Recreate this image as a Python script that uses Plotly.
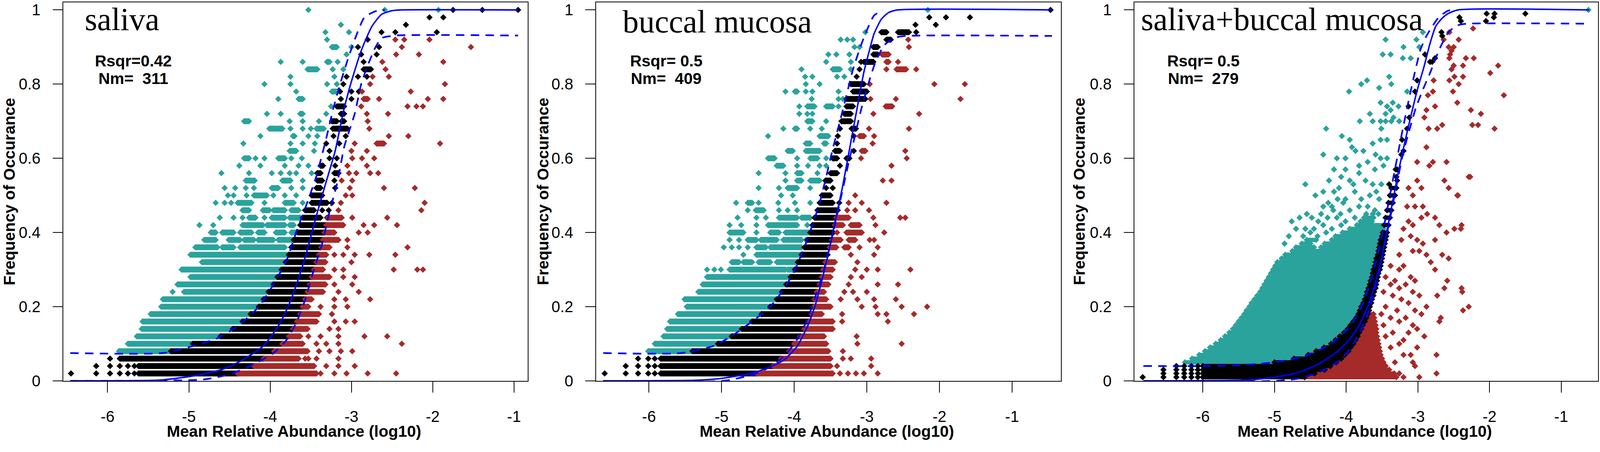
import plotly.graph_objects as go

# ---------------- colours ----------------
TEAL = "#2aa39c"
BLACK = "#000000"
RED = "#a52a2a"
BLUE = "#0000ff"

# ---------------- axis ticks ----------------
X_TICKS = [-6, -5, -4, -3, -2, -1]
X_TICK_TEXT = ["-6", "-5", "-4", "-3", "-2", "-1"]
Y_TICKS = [0, 0.2, 0.4, 0.6, 0.8, 1.0]
Y_TICK_TEXT = ["0", "0.2", "0.4", "0.6", "0.8", "1"]

PANEL_TITLES = ["saliva", "buccal mucosa", "saliva+buccal mucosa"]
RSQR_TEXT = ["Rsqr=0.42", "Rsqr=\u00a00.5", "Rsqr=\u00a00.5"]
NM_TEXT = ["Nm=\u00a0\u00a0311", "Nm=\u00a0\u00a0409", "Nm=\u00a0\u00a0279"]

# ================= saliva (rows: y -> runs (x0,x1) or single x) =================
SAL_TEAL = {
    0.08: [(-5.86, -5.22)], 0.10: [(-5.75, -4.95)], 0.12: [(-5.64, -4.61)],
    0.14: [(-5.58, -4.46)], 0.16: [(-5.57, -4.34)], 0.18: [(-5.47, -4.24)],
    0.20: [(-5.34, -4.14)], 0.22: [(-5.32, -4.08)], 0.24: [-5.20, (-5.06, -4.02)],
    0.26: [(-5.14, -3.96)], 0.28: [(-4.98, -3.91)], 0.30: [(-5.09, -3.86)],
    0.32: [(-4.84, -3.81)], 0.34: [(-4.98, -3.77)],
    0.36: [(-4.92, -4.65), (-4.59, -4.45), (-4.37, -3.82)],
    0.38: [(-4.81, -4.67), (-4.51, -4.37), (-4.32, -4.20), (-4.15, -3.96), (-3.90, -3.71)],
    0.40: [(-4.73, -4.67), (-4.59, -4.45), (-4.37, -4.23), (-4.15, -4.07), (-3.93, -3.82), (-3.74, -3.68)],
    0.42: [-4.87, -4.70, (-4.34, -4.09), (-4.04, -3.82), (-3.76, -3.71)],
    0.44: [-4.62, -4.45, -4.34, (-4.26, -4.18), -4.07, (-3.98, -3.82), (-3.76, -3.63)],
    0.46: [(-4.34, -4.26), (-4.09, -4.01), (-3.96, -3.82), (-3.74, -3.65)],
    0.48: [-4.67, -4.56, -4.48, (-4.40, -4.23), -4.07, (-3.82, -3.71), -3.60],
    0.50: [-4.52, -4.45, -4.29, (-4.20, -4.04), -3.96, -3.82, -3.68],
    0.52: [-4.56, -4.43, -4.30, -4.20, (-3.98, -3.90), -3.74, -3.60],
    0.54: [(-4.30, -4.19), (-3.85, -3.75), -3.60],
    0.56: [-4.60, -4.26, -3.98, -3.87, -3.76, -3.68, -3.49],
    0.58: [-4.38, -4.12, -3.82, -3.65, -3.53],
    0.60: [(-4.32, -4.26), -4.18, -4.07, (-3.90, -3.82), -3.74, -3.61],
    0.62: [(-3.76, -3.68), -3.46],
    0.64: [-4.33, -3.75, -3.60, -3.45],
    0.66: [-4.12, (-3.72, -3.70), -3.53, -3.42],
    0.68: [(-4.01, -3.85), -3.75, -3.60, -3.50, (-3.43, -3.34)],
    0.70: [(-4.32, -4.26), -3.76, -3.60, -3.40],
    0.72: [-4.04, -3.87, (-3.63, -3.60), -3.31],
    0.74: [-3.25], 0.76: [-3.90, (-3.65, -3.60)], 0.78: [-3.68, (-3.24, -3.17)],
    0.80: [-4.07, -3.75, -3.30, -3.18], 0.82: [-3.75, -3.21],
    0.84: [(-3.54, -3.42), -3.23, -3.10], 0.86: [-3.87, -3.60, (-3.30, -3.27), -3.17],
    0.88: [-3.06], 0.90: [(-3.24, -3.18), -3.00], 0.92: [-3.30], 0.94: [-3.32, -3.03],
    0.96: [-3.13], 1.00: [-3.53, -2.59, -1.93],
}
SAL_BLACK = {
    0.02: [-6.45, -6.14, -5.97, -5.85, -5.75, -5.67, (-5.62, -4.40)],
    0.04: [-6.14, -5.97, -5.85, -5.75, -5.67, (-5.62, -4.20)],
    0.06: [-5.97, (-5.85, -4.08)],
    0.08: [(-5.22, -3.95)], 0.10: [(-4.95, -3.85)], 0.12: [(-4.61, -3.77)],
    0.14: [(-4.46, -3.72)], 0.16: [(-4.34, -3.67)], 0.18: [(-4.24, -3.63)],
    0.20: [(-4.14, -3.60)], 0.22: [(-4.08, -3.57)], 0.24: [(-4.02, -3.54)],
    0.26: [(-3.96, -3.51)], 0.28: [(-3.91, -3.49)], 0.30: [(-3.86, -3.46)],
    0.32: [(-3.81, -3.43)], 0.34: [(-3.77, -3.40)], 0.36: [(-3.74, -3.38)],
    0.38: [(-3.71, -3.36)], 0.40: [(-3.66, -3.33)], 0.42: [(-3.63, -3.31)],
    0.44: [(-3.60, -3.38), -3.30], 0.46: [(-3.57, -3.46), -3.36, -3.28],
    0.48: [(-3.49, -3.30), -3.24], 0.50: [(-3.49, -3.36)], 0.52: [(-3.43, -3.38), -3.20],
    0.54: [(-3.42, -3.36), -3.21], 0.56: [(-3.42, -3.38), (-3.21, -3.16)],
    0.58: [(-3.38, -3.35), -3.20], 0.60: [-3.27, -3.18], 0.62: [-3.27],
    0.64: [-3.31, -3.15], 0.66: [-3.22, -3.07], 0.68: [(-3.23, -3.05)],
    0.70: [(-3.24, -3.18), (-3.12, -3.09)], 0.72: [(-3.13, -3.09)], 0.74: [(-3.18, -3.09)],
    0.76: [-3.13, -3.00], 0.78: [-3.14, -3.00, -2.91], 0.80: [-3.10],
    0.82: [-3.06, -2.92, -2.81], 0.84: [(-2.85, -2.76)], 0.86: [-2.85],
    0.88: [-2.88, -2.69], 0.90: [-2.92, -2.66], 0.92: [-2.80],
    0.94: [-2.63, -2.46, -1.95], 0.96: [-2.33], 0.98: [-2.04, -1.87],
    1.00: [-1.75, -1.39, -0.95],
}
SAL_RED = {
    0.02: [(-4.40, -3.43), -3.38, -3.21, -3.06, -2.80, -2.45],
    0.04: [(-4.20, -3.46), -3.31, -3.16, -2.96],
    0.06: [(-4.08, -3.65), -3.57, -3.53, -3.43, -3.16],
    0.08: [(-3.95, -3.54), -3.40, -3.27, -3.13, -2.99],
    0.10: [(-3.85, -3.60), -3.43, -3.31, -3.16, -2.38],
    0.12: [(-3.77, -3.63), -3.53, -3.38, -3.16, -2.84, -2.56],
    0.14: [(-3.72, -3.54), -3.27, -3.16],
    0.16: [(-3.67, -3.43), -3.21, -3.07, -2.96],
    0.18: [(-3.63, -3.40), -3.24],
    0.20: [(-3.60, -3.53), -3.38, -3.21, -3.05],
    0.22: [(-3.57, -3.49), -3.21, -3.07, -2.77],
    0.24: [(-3.54, -3.35), -3.16, -2.91],
    0.26: [(-3.51, -3.32), -3.21, -2.99],
    0.28: [(-3.49, -3.27), -3.10, -2.96],
    0.30: [(-3.46, -3.35), -3.21, -3.10, -2.48, -2.19, -2.12],
    0.32: [(-3.43, -3.32), -3.00],
    0.34: [(-3.40, -3.31), -3.21, -3.10, -2.96, -2.78, -2.46],
    0.36: [(-3.37, -3.27), -3.05, -2.31],
    0.38: [(-3.35, -3.16), -3.05],
    0.40: [(-3.33, -3.21), -2.91, -2.80],
    0.42: [(-3.31, -3.10), -2.85, -2.72, -2.44],
    0.44: [(-3.29, -3.12), -2.99, -2.56],
    0.46: [-3.16, -2.14], 0.48: [-3.13, -2.10], 0.50: [-3.07, -2.99],
    0.52: [-3.02, -2.60, -2.22], 0.54: [-3.12, -2.99],
    0.56: [-3.03, -2.94, -2.77, -2.67], 0.58: [-3.05, -2.81],
    0.60: [-2.99, -2.87, -2.72], 0.62: [-3.00, -2.81],
    0.64: [-2.96, (-2.69, -2.60), -1.91], 0.66: [-2.54, -2.30],
    0.68: [-2.78], 0.70: [-2.80], 0.72: [-2.81, -2.55],
    0.74: [-2.88, -2.31, -2.20, -2.12], 0.76: [(-2.85, -2.80), -2.66, -2.06, -1.87],
    0.78: [-2.87, -2.27], 0.80: [-2.77, -1.85], 0.82: [-2.74, -2.54],
    0.84: [-2.58], 0.86: [-2.62, -1.87], 0.88: [-2.45, -2.17],
    0.90: [-2.38, -1.53], 0.92: [-2.46, -2.35, -2.04],
}
SAL_FIT_X = [-6.46, -5.36, -4.98, -4.60, -4.35, -4.08, -3.88, -3.76, -3.66, -3.56, -3.43, -3.32,
             -3.20, -3.10, -3.01, -2.88, -2.75, -2.63, -2.50, -2.40, -0.95]
SAL_FIT_Y = [0.0, 0.002, 0.012, 0.03, 0.055, 0.095, 0.155, 0.21, 0.27, 0.34, 0.446, 0.53,
             0.62, 0.725, 0.80, 0.89, 0.955, 0.988, 0.998, 1.0, 1.0]
SAL_UP_X = [-6.46, -5.32, -4.98, -4.65, -4.39, -4.14, -3.97, -3.80, -3.68, -3.55, -3.43, -3.32,
            -3.22, -3.09, -2.96, -2.84, -2.71, -2.59]
SAL_UP_Y = [0.075, 0.075, 0.092, 0.115, 0.149, 0.20, 0.256, 0.324, 0.40, 0.477, 0.553, 0.645,
            0.737, 0.836, 0.92, 0.98, 0.996, 1.0]
SAL_LO_X = [-6.46, -4.81, -4.48, -4.23, -3.97, -3.80, -3.68, -3.57, -3.47, -3.36, -3.28, -3.17,
            -3.09, -2.96, -2.88, -2.80, -2.71, -2.63, -2.46, -0.95]
SAL_LO_Y = [0.0, 0.004, 0.019, 0.042, 0.073, 0.11, 0.156, 0.218, 0.294, 0.37, 0.447, 0.538,
            0.63, 0.72, 0.80, 0.85, 0.897, 0.924, 0.931, 0.931]

# ================= buccal mucosa =================
BUC_TEAL = {
    0.08: [(-6.01, -5.40)], 0.10: [(-5.92, -5.05)], 0.12: [(-5.80, -4.86)],
    0.14: [(-5.75, -4.72)], 0.16: [(-5.71, -4.58)], 0.18: [(-5.60, -4.45)],
    0.20: [(-5.48, -4.33)], 0.22: [(-5.51, -4.24)], 0.24: [(-5.32, -4.17)],
    0.26: [(-5.26, -4.11)], 0.28: [(-5.20, -4.05)],
    0.30: [-5.20, -5.10, -5.01, (-4.89, -4.12), (-4.09, -3.99)],
    0.32: [(-4.86, -4.76), (-4.70, -4.58), (-4.49, -4.33), (-4.24, -3.95)],
    0.34: [-4.70, (-4.52, -3.90)],
    0.36: [-4.97, -4.86, -4.76, -4.64, (-4.52, -4.39), (-4.33, -3.90)],
    0.38: [-4.89, -4.76, (-4.64, -4.52), (-4.46, -4.24), (-4.15, -3.90), -3.84],
    0.40: [(-4.89, -4.70), -4.52, (-4.33, -4.21), (-4.12, -3.80)],
    0.42: [-4.89, -4.73, -4.52, (-4.36, -3.96), -3.82],
    0.44: [-4.78, -4.52, -4.39, (-4.21, -3.96), (-3.90, -3.78)],
    0.46: [-4.64, (-4.53, -4.42), -4.21, -4.09, -3.96],
    0.48: [-4.80, (-4.64, -4.58), -4.49, -4.22, -3.99, -3.78],
    0.50: [-4.18, -4.02],
    0.52: [-4.49, -4.21, (-4.09, -3.96), -3.78],
    0.54: [-4.12, (-3.96, -3.90), (-3.78, -3.65)],
    0.56: [-4.49, -4.12, (-3.96, -3.90), -3.68],
    0.58: [(-4.24, -4.15), -3.96, -3.81, -3.65, -3.56],
    0.60: [(-4.36, -4.27), -3.96, (-3.78, -3.68), -3.56],
    0.62: [(-4.09, -4.02), (-3.84, -3.65)],
    0.64: [(-3.84, -3.78), (-3.59, -3.56)],
    0.66: [-4.36, (-3.65, -3.53)],
    0.68: [-4.15, (-3.99, -3.96), -3.78, -3.62],
    0.70: [(-3.82, -3.75), -3.56],
    0.72: [-3.93, -3.82, -3.75],
    0.74: [-3.93, (-3.82, -3.72), (-3.56, -3.47), -3.39],
    0.76: [-3.76, -3.39, -3.33],
    0.78: [-4.12, (-3.99, -3.96), -3.84, -3.75, -3.39],
    0.80: [-3.84, -3.65], 0.82: [-3.85, -3.75, -3.41, -3.31],
    0.84: [-3.90, (-3.47, -3.37), -3.22], 0.86: [-3.56, -3.22],
    0.88: [-3.53, -3.42, -3.24], 0.90: [-3.17, -3.10],
    0.92: [-3.36, -3.27, -3.19], 0.94: [-3.02], 1.00: [-2.16],
}
BUC_BLACK = {
    0.02: [-6.61, -6.32, -6.15, -6.01, -5.92, (-5.84, -4.52)],
    0.04: [-6.32, -6.15, -6.01, -5.92, (-5.84, -4.29)],
    0.06: [-6.15, -6.01, -5.92, (-5.84, -4.18)],
    0.08: [(-5.40, -4.07)], 0.10: [(-5.05, -4.00)], 0.12: [(-4.86, -3.92)],
    0.14: [(-4.72, -3.86)], 0.16: [(-4.58, -3.80)], 0.18: [(-4.45, -3.76)],
    0.20: [(-4.33, -3.73)], 0.22: [(-4.24, -3.72)], 0.24: [(-4.17, -3.69)],
    0.26: [(-4.11, -3.65)], 0.28: [(-4.05, -3.62)], 0.30: [(-3.99, -3.60)],
    0.32: [(-3.95, -3.57)], 0.34: [(-3.90, -3.54)], 0.36: [(-3.86, -3.51)],
    0.38: [(-3.82, -3.48)], 0.40: [(-3.78, -3.46)], 0.42: [(-3.75, -3.44)],
    0.44: [(-3.72, -3.42)], 0.46: [(-3.68, -3.40)], 0.48: [(-3.65, -3.47), -3.38],
    0.50: [(-3.62, -3.50)], 0.52: [-3.56, -3.47], 0.54: [(-3.57, -3.50)],
    0.56: [(-3.50, -3.41)], 0.58: [-3.37], 0.60: [(-3.47, -3.41), (-3.28, -3.24)],
    0.62: [(-3.44, -3.37), -3.18], 0.64: [-3.41], 0.66: [-3.40, -3.18],
    0.68: [-3.37, (-3.21, -3.15)], 0.70: [(-3.35, -3.22)], 0.72: [(-3.31, -3.22)],
    0.74: [(-3.28, -3.19)], 0.76: [(-3.28, -3.02)], 0.78: [(-3.19, -3.00)],
    0.80: [(-3.22, -3.04)], 0.82: [-3.14], 0.84: [-3.10],
    0.86: [-3.08, (-3.04, -2.91)], 0.88: [(-2.91, -2.85)], 0.90: [(-2.91, -2.85)],
    0.92: [(-2.73, -2.67)], 0.94: [(-2.80, -2.73), (-2.57, -2.42), -2.32],
    0.96: [-2.33, -2.05], 0.98: [-2.14, -1.91, -1.58], 1.00: [-0.47],
}
BUC_RED = {
    0.02: [(-4.52, -3.47), -3.37, -3.26, -3.15, -3.04, -2.85],
    0.04: [(-4.29, -3.50), -3.41, -2.94],
    0.06: [(-4.18, -3.50), -3.33, -3.22, -2.94],
    0.08: [(-4.07, -3.53), -3.33],
    0.10: [(-4.00, -3.56), -3.13, -2.52],
    0.12: [(-3.92, -3.59), -3.14],
    0.14: [(-3.86, -3.47)],
    0.16: [(-3.80, -3.47), -3.34, -2.71],
    0.18: [(-3.76, -3.62), -3.34, -2.85, -2.73, -2.35],
    0.20: [(-3.73, -3.50), -3.07, -2.88, -2.52, -2.17],
    0.22: [(-3.72, -3.56), -3.36, -3.13, -2.90, -2.60],
    0.24: [(-3.69, -3.59), -3.31, -3.19, -3.00],
    0.26: [(-3.65, -3.53), -3.25, -2.85, -2.57],
    0.28: [(-3.62, -3.50), -3.22, -3.07],
    0.30: [(-3.60, -3.47), -3.16, -3.00, -2.85, -2.40],
    0.32: [(-3.57, -3.44), -3.13],
    0.34: [-3.22, -2.90],
    0.36: [(-3.51, -3.42), (-3.31, -3.25), -3.10, -2.85],
    0.38: [(-3.48, -3.36), (-3.25, -3.16), -2.96, -2.90],
    0.40: [-3.41, (-3.28, -3.07), -2.76],
    0.42: [(-3.44, -3.33), (-3.22, -3.10), -2.88],
    0.44: [(-3.42, -3.25), -2.91, -2.54, -2.47],
    0.46: [-3.27, -3.16, -2.97], 0.48: [-3.25, -3.07, -2.73], 0.50: [-3.16],
    0.54: [-2.78, -2.66], 0.58: [-2.66], 0.60: [-3.08, -2.45],
    0.62: [(-3.07, -3.02), -2.47], 0.64: [-2.92], 0.66: [(-3.10, -3.04), -2.90],
    0.68: [-2.97, -2.42], 0.72: [-2.91, -2.28], 0.74: [(-2.74, -2.65)],
    0.76: [-2.95, -2.60, -1.71], 0.80: [-2.96, -2.07, -1.65],
    0.84: [-2.73, (-2.59, -2.46), -2.32], 0.86: [(-2.73, -2.70), -2.57],
    0.88: [(-2.79, -2.70)], 0.90: [-2.42], 0.92: [-2.43],
}
BUC_FIT_X = [-6.63, -5.30, -4.95, -4.60, -4.39, -4.15, -3.96, -3.81, -3.71, -3.62, -3.53, -3.44,
             -3.34, -3.27, -3.19, -3.11, -3.04, -2.96, -2.90, -2.80, -2.70, -2.58, -0.45]
BUC_FIT_Y = [0.0, 0.002, 0.008, 0.02, 0.033, 0.055, 0.093, 0.15, 0.204, 0.27, 0.343, 0.427,
             0.518, 0.591, 0.676, 0.76, 0.833, 0.894, 0.936, 0.975, 0.993, 1.0, 1.0]
BUC_UP_X = [-6.63, -5.55, -5.10, -4.83, -4.58, -4.33, -4.15, -3.99, -3.87, -3.75, -3.65, -3.56,
            -3.47, -3.37, -3.28, -3.19, -3.08, -3.00, -2.90, -2.78]
BUC_UP_Y = [0.075, 0.075, 0.095, 0.125, 0.16, 0.20, 0.245, 0.30, 0.355, 0.42, 0.48, 0.55,
            0.625, 0.70, 0.77, 0.84, 0.905, 0.945, 0.985, 1.0]
BUC_LO_X = [-6.63, -4.97, -4.52, -4.27, -4.10, -3.95, -3.82, -3.72, -3.62, -3.53, -3.44, -3.35,
            -3.26, -3.17, -3.08, -2.98, -2.88, -2.76, -2.62, -2.45, -0.45]
BUC_LO_Y = [0.0, 0.0, 0.02, 0.045, 0.075, 0.115, 0.165, 0.22, 0.28, 0.345, 0.42, 0.50,
            0.58, 0.655, 0.73, 0.80, 0.86, 0.905, 0.925, 0.93, 0.93]

# ================= saliva + buccal mucosa =================
COMB_TEAL_ROWS = [
    (0.05, -6.25, -5.00), (0.06, -6.15, -4.73), (0.07, -6.05, -4.53), (0.08, -5.97, -4.42),
    (0.09, -5.90, -4.31), (0.10, -5.82, -4.21), (0.11, -5.75, -4.15), (0.12, -5.69, -4.09),
    (0.13, -5.63, -4.03), (0.14, -5.58, -3.98), (0.15, -5.54, -3.94), (0.16, -5.50, -3.90),
    (0.17, -5.46, -3.86), (0.18, -5.42, -3.83), (0.19, -5.39, -3.81), (0.20, -5.35, -3.79),
    (0.21, -5.32, -3.76), (0.22, -5.28, -3.74), (0.23, -5.24, -3.72), (0.24, -5.20, -3.71),
    (0.25, -5.17, -3.69), (0.26, -5.14, -3.67), (0.27, -5.11, -3.66), (0.28, -5.08, -3.64),
    (0.29, -5.05, -3.63), (0.30, -5.02, -3.62), (0.31, -4.99, -3.60), (0.32, -4.96, -3.59),
    (0.33, -4.90, -3.58), (0.34, -4.85, -3.56), (0.35, -4.75, -3.55),
    (0.36, -4.70, -4.45), (0.36, -4.35, -3.54), (0.37, -4.62, -4.50), (0.37, -4.30, -3.53),
    (0.38, -4.55, -4.42), (0.38, -4.20, -3.52), (0.39, -4.15, -3.50), (0.40, -4.05, -3.49),
    (0.41, -3.95, -3.48), (0.42, -3.85, -3.47), (0.43, -3.80, -3.64), (0.44, -3.75, -3.62),
]
COMB_TEAL_PTS = [
    (-3.45, 0.92), (-3.49, 0.88), (-3.38, 0.88), (-3.20, 0.90), (-3.21, 0.87), (-3.10, 0.87),
    (-3.02, 0.92), (-2.93, 0.94), (-2.98, 0.90), (-3.71, 0.81), (-3.79, 0.80), (-3.96, 0.78),
    (-3.54, 0.79), (-3.40, 0.82), (-3.37, 0.80), (-3.15, 0.78), (-3.52, 0.75), (-3.43, 0.74),
    (-3.35, 0.75), (-3.27, 0.74), (-3.67, 0.72), (-3.45, 0.72), (-3.38, 0.73), (-3.34, 0.71),
    (-3.81, 0.70), (-3.63, 0.70), (-3.52, 0.70), (-3.45, 0.70), (-3.37, 0.70), (-3.26, 0.70),
    (-4.28, 0.68), (-3.51, 0.68), (-4.06, 0.66), (-3.95, 0.65), (-3.92, 0.63), (-3.63, 0.64),
    (-3.52, 0.65), (-3.43, 0.65), (-4.32, 0.61), (-4.13, 0.60), (-4.01, 0.60), (-3.87, 0.62),
    (-3.76, 0.62), (-3.59, 0.61), (-3.52, 0.60), (-3.43, 0.60), (-4.17, 0.57), (-4.01, 0.57),
    (-3.82, 0.58), (-3.70, 0.59), (-3.60, 0.57), (-3.48, 0.58), (-4.57, 0.53), (-4.24, 0.54),
    (-4.07, 0.55), (-3.95, 0.54), (-3.82, 0.56), (-3.73, 0.54), (-3.63, 0.53), (-3.51, 0.53),
    (-4.43, 0.50), (-4.32, 0.51), (-4.17, 0.51), (-4.01, 0.49), (-3.88, 0.51), (-3.79, 0.49),
    (-3.67, 0.50), (-3.54, 0.49), (-4.32, 0.47), (-4.20, 0.47), (-4.04, 0.48), (-3.95, 0.46),
    (-3.82, 0.47), (-3.70, 0.47), (-3.60, 0.46), (-4.76, 0.43), (-4.65, 0.44), (-4.48, 0.44),
    (-4.39, 0.43), (-4.26, 0.44), (-4.13, 0.44), (-4.01, 0.43), (-3.88, 0.44), (-3.76, 0.43),
    (-3.63, 0.45), (-4.57, 0.41), (-4.45, 0.41), (-4.32, 0.42), (-4.20, 0.41), (-4.07, 0.42),
    (-4.60, 0.39), (-4.50, 0.40), (-4.40, 0.39), (-4.28, 0.40), (-4.55, 0.45), (-4.35, 0.45),
    (-4.18, 0.46), (-4.08, 0.45), (-3.72, 0.45), (-3.55, 0.45), (-4.25, 0.48), (-4.12, 0.49),
    (-3.58, 0.51), (-4.10, 0.52), (-3.90, 0.53), (-4.86, 0.37), (-4.80, 0.39), (-4.70, 0.41),
    (-0.62, 1.00),
]
COMB_BLACK_ROWS = [
    (0.01, -6.00, -4.58), (0.02, -6.00, -4.44), (0.03, -6.00, -4.30), (0.04, -6.00, -4.22),
    (0.05, -5.00, -4.14), (0.06, -4.73, -4.07), (0.07, -4.53, -4.02), (0.08, -4.42, -3.97),
    (0.09, -4.31, -3.94), (0.10, -4.21, -3.90), (0.11, -4.15, -3.87), (0.12, -4.09, -3.84),
    (0.13, -4.03, -3.82), (0.14, -3.98, -3.79), (0.15, -3.94, -3.77), (0.16, -3.90, -3.74),
    (0.17, -3.86, -3.72), (0.18, -3.83, -3.70), (0.19, -3.81, -3.68), (0.20, -3.79, -3.67),
    (0.21, -3.76, -3.65), (0.22, -3.74, -3.64), (0.23, -3.72, -3.62), (0.24, -3.71, -3.61),
    (0.25, -3.69, -3.59), (0.26, -3.67, -3.58), (0.27, -3.66, -3.57), (0.28, -3.64, -3.56),
    (0.29, -3.63, -3.55), (0.30, -3.62, -3.53), (0.31, -3.60, -3.52), (0.32, -3.59, -3.51),
    (0.33, -3.58, -3.50), (0.34, -3.56, -3.49), (0.35, -3.55, -3.48), (0.36, -3.54, -3.47),
    (0.37, -3.53, -3.46), (0.38, -3.52, -3.45), (0.39, -3.50, -3.44), (0.40, -3.49, -3.43),
    (0.42, -3.47, -3.41), (0.44, -3.45, -3.39), (0.46, -3.43, -3.37), (0.48, -3.41, -3.35),
    (0.50, -3.39, -3.32), (0.52, -3.37, -3.30),
]
COMB_BLACK_PTS = [
    (-6.84, 0.01), (-6.55, 0.01), (-6.55, 0.02), (-6.55, 0.03), (-6.37, 0.01), (-6.37, 0.02),
    (-6.37, 0.03), (-6.37, 0.04), (-6.26, 0.01), (-6.26, 0.02), (-6.26, 0.03), (-6.26, 0.04),
    (-6.16, 0.01), (-6.16, 0.02), (-6.16, 0.03), (-6.16, 0.04), (-6.07, 0.01), (-6.07, 0.02),
    (-6.07, 0.03), (-6.07, 0.04), (-3.29, 0.54), (-3.40, 0.53),
    (-2.66, 0.93), (-2.80, 0.86), (-2.76, 0.87), (-2.90, 0.88), (-3.01, 0.81), (-3.04, 0.78),
    (-3.13, 0.74), (-3.12, 0.71), (-3.15, 0.68), (-3.22, 0.65), (-3.20, 0.62), (-3.23, 0.61),
    (-3.29, 0.57), (-3.30, 0.55), (-3.31, 0.57), (-2.04, 0.99), (-1.93, 0.99), (-2.05, 0.97),
    (-1.94, 0.98), (-1.50, 0.99), (-2.42, 0.98), (-2.40, 0.97), (-2.67, 0.94), (-2.83, 0.86),
]
COMB_RED_ROWS = [
    (0.01, -4.58, -3.30), (0.02, -4.44, -3.33), (0.03, -4.30, -3.40), (0.04, -4.22, -3.45),
    (0.05, -4.14, -3.48), (0.06, -4.07, -3.50), (0.07, -4.02, -3.52), (0.08, -3.97, -3.53),
    (0.09, -3.94, -3.54), (0.10, -3.90, -3.55), (0.11, -3.87, -3.56), (0.12, -3.84, -3.57),
    (0.13, -3.82, -3.58), (0.14, -3.79, -3.58), (0.15, -3.77, -3.59), (0.16, -3.74, -3.60),
    (0.17, -3.72, -3.61), (0.18, -3.70, -3.62),
]
COMB_RED_PTS = [
    (-2.23, 0.95), (-2.56, 0.94), (-2.64, 0.92), (-2.43, 0.92), (-2.57, 0.90), (-2.50, 0.90),
    (-2.53, 0.89), (-2.55, 0.88), (-2.56, 0.87), (-2.33, 0.87), (-2.22, 0.87), (-2.50, 0.85),
    (-2.53, 0.84), (-2.37, 0.85), (-1.88, 0.85), (-1.99, 0.83), (-2.49, 0.82), (-2.37, 0.82),
    (-2.56, 0.81), (-2.43, 0.80), (-2.78, 0.81), (-2.79, 0.78), (-2.51, 0.78), (-1.80, 0.77),
    (-2.86, 0.77), (-2.45, 0.75), (-2.26, 0.73), (-2.12, 0.72), (-2.76, 0.74), (-2.88, 0.73),
    (-2.91, 0.71), (-2.24, 0.69), (-2.16, 0.69), (-1.93, 0.68), (-2.66, 0.69), (-2.73, 0.68),
    (-2.85, 0.68), (-2.88, 0.63), (-2.79, 0.59), (-2.84, 0.58), (-2.60, 0.59), (-2.29, 0.55),
    (-2.63, 0.54), (-2.57, 0.52), (-2.45, 0.50), (-3.01, 0.59), (-3.01, 0.54), (-2.95, 0.52),
    (-3.13, 0.52), (-3.07, 0.50), (-3.04, 0.47), (-2.93, 0.47), (-3.15, 0.47), (-2.95, 0.44),
    (-2.87, 0.45), (-2.76, 0.44), (-2.70, 0.42), (-2.60, 0.40), (-2.49, 0.41), (-2.40, 0.41),
    (-3.13, 0.43), (-3.07, 0.42), (-3.20, 0.41), (-3.23, 0.38), (-3.10, 0.39), (-3.01, 0.38),
    (-2.93, 0.37), (-3.07, 0.35), (-2.98, 0.35), (-2.88, 0.34), (-2.76, 0.38), (-2.66, 0.34),
    (-2.57, 0.33), (-2.82, 0.32), (-2.76, 0.30), (-2.59, 0.27), (-2.63, 0.25), (-2.38, 0.24),
    (-2.37, 0.19), (-2.73, 0.23), (-2.88, 0.20), (-2.68, 0.17), (-2.70, 0.16), (-3.26, 0.34),
    (-3.20, 0.31), (-3.26, 0.30), (-3.10, 0.28), (-3.04, 0.27), (-3.17, 0.26), (-3.26, 0.25),
    (-3.07, 0.24), (-2.98, 0.23), (-3.23, 0.22), (-3.13, 0.21), (-3.04, 0.19), (-2.95, 0.18),
    (-3.17, 0.17), (-3.07, 0.15), (-3.01, 0.14), (-3.13, 0.13), (-3.20, 0.11), (-2.91, 0.12),
    (-3.01, 0.09), (-3.10, 0.07), (-3.07, 0.05), (-3.04, 0.04), (-2.98, 0.01), (-2.74, 0.07),
    (-2.74, 0.02), (-3.38, 0.31), (-3.45, 0.28), (-3.38, 0.26), (-3.32, 0.27), (-3.48, 0.24),
    (-3.35, 0.23), (-3.45, 0.20), (-3.29, 0.19), (-3.51, 0.18), (-3.38, 0.17), (-3.26, 0.16),
    (-3.48, 0.15), (-3.35, 0.13), (-3.45, 0.12), (-3.26, 0.10), (-3.38, 0.09), (-3.20, 0.07),
    (-3.32, 0.05), (-3.26, 0.02), (-3.20, 0.01), (-2.39, 0.42), (-2.44, 0.50), (-2.27, 0.55),
    (-2.29, 0.20), (-2.39, 0.25),
]
COMB_FIT_X = [-6.83, -5.44, -5.06, -4.68, -4.39, -4.15, -3.96, -3.82, -3.70, -3.60, -3.51, -3.43,
              -3.35, -3.27, -3.18, -3.09, -3.00, -2.91, -2.83, -2.75, -2.66, -2.58, -2.44, -0.61]
COMB_FIT_Y = [0.0, 0.002, 0.008, 0.022, 0.045, 0.075, 0.11, 0.15, 0.20, 0.26, 0.33, 0.405,
              0.485, 0.565, 0.645, 0.72, 0.79, 0.85, 0.91, 0.956, 0.978, 0.99, 1.0, 1.0]
COMB_UP_X = [-6.83, -6.00, -5.50, -5.00, -4.60, -4.25, -4.00, -3.85, -3.74, -3.64, -3.55, -3.47,
             -3.39, -3.31, -3.23, -3.14, -3.05, -2.96, -2.88, -2.80, -2.71, -2.58, -2.50]
COMB_UP_Y = [0.04, 0.04, 0.042, 0.05, 0.065, 0.095, 0.135, 0.175, 0.22, 0.28, 0.35, 0.42,
             0.50, 0.58, 0.66, 0.745, 0.825, 0.895, 0.93, 0.955, 0.98, 0.998, 1.0]
COMB_LO_X = [-6.83, -4.97, -4.62, -4.30, -4.10, -3.95, -3.84, -3.73, -3.63, -3.54, -3.46, -3.38,
             -3.30, -3.21, -3.12, -3.03, -2.93, -2.83, -2.70, -2.58, -2.49, -2.42, -2.31, -0.61]
COMB_LO_Y = [0.0, 0.0, 0.008, 0.03, 0.055, 0.085, 0.12, 0.165, 0.225, 0.295, 0.37, 0.445,
             0.525, 0.61, 0.675, 0.735, 0.785, 0.83, 0.894, 0.938, 0.954, 0.96, 0.963, 0.963]

# ---------------- layout geometry ----------------
# Positions are fractions of the reference picture (4550 x 1157).  The page is
# shown in a viewport about 4096 px wide and 1157 px high, so horizontal sizes
# shrink by SX while vertical sizes keep their reference pixel values.
W, H = 4550, 1157
SX = 4096 / 4550
KF = 1.05                  # font compromise between horizontal and vertical scale
X_DOMAINS = [(180 / W, 1501 / W), (1695 / W, 3017 / W), (3226 / W, 4545 / W)]
X_RANGES = [(-6.545, -0.830), (-6.729, -0.327), (-6.955, -0.483)]
Y_DOMAIN = ((H - 993.5) / H, (H - 4) / H)
Y_RANGE = (0, 1.0206)


def rows_from_list(rows):
    d = {}
    for y, x0, x1 in rows:
        d.setdefault(y, []).append((x0, x1))
    return d


def pts_to_rows(pts):
    d = {}
    for x, y in pts:
        d.setdefault(y, []).append(x)
    return d


fig = go.Figure()


def add_points(rows, color, ax, lw, ms):
    xa = "x" if ax == 1 else "x%d" % ax
    ya = "y" if ax == 1 else "y%d" % ax
    lx, ly, mx, my = [], [], [], []
    for y, items in rows.items():
        for it in items:
            if isinstance(it, tuple):
                x0, x1 = it
                lx += [x0, x1, None]
                ly += [y, y, None]
                mx += [x0, x1]
                my += [y, y]
            else:
                mx.append(it)
                my.append(y)
    if lx:
        fig.add_trace(go.Scatter(x=lx, y=ly, mode="lines", xaxis=xa, yaxis=ya,
                                 line=dict(color=color, width=lw), hoverinfo="skip",
                                 showlegend=False))
    fig.add_trace(go.Scatter(x=mx, y=my, mode="markers", xaxis=xa, yaxis=ya,
                             marker=dict(symbol="diamond", size=ms, color=color,
                                         line=dict(width=0)),
                             hoverinfo="skip", showlegend=False))


def add_curves(ax, fx, fy, ux, uy, lox, loy):
    xa = "x" if ax == 1 else "x%d" % ax
    ya = "y" if ax == 1 else "y%d" % ax
    fig.add_trace(go.Scatter(x=fx, y=fy, mode="lines", xaxis=xa, yaxis=ya,
                             line=dict(color=BLUE, width=3.8, shape="spline", smoothing=0.6),
                             hoverinfo="skip", showlegend=False))
    dash = "%.1fpx,%.1fpx" % (24 * SX, 18 * SX)
    for cx, cy in ((ux, uy), (lox, loy)):
        fig.add_trace(go.Scatter(x=cx, y=cy, mode="lines", xaxis=xa, yaxis=ya,
                                 line=dict(color=BLUE, width=4.3, dash=dash,
                                           shape="spline", smoothing=0.6),
                                 hoverinfo="skip", showlegend=False))


MS = 12.5
# panel 1
add_points(SAL_TEAL, TEAL, 1, 15, MS)
add_points(SAL_BLACK, BLACK, 1, 15, MS)
add_points(SAL_RED, RED, 1, 15, MS)
add_curves(1, SAL_FIT_X, SAL_FIT_Y, SAL_UP_X, SAL_UP_Y, SAL_LO_X, SAL_LO_Y)
# panel 2
add_points(BUC_TEAL, TEAL, 2, 15, MS)
add_points(BUC_BLACK, BLACK, 2, 15, MS)
add_points(BUC_RED, RED, 2, 15, MS)
add_curves(2, BUC_FIT_X, BUC_FIT_Y, BUC_UP_X, BUC_UP_Y, BUC_LO_X, BUC_LO_Y)
# panel 3
add_points(rows_from_list(COMB_TEAL_ROWS), TEAL, 3, 11, MS)
add_points(pts_to_rows(COMB_TEAL_PTS), TEAL, 3, 11, MS)
add_points(rows_from_list(COMB_RED_ROWS), RED, 3, 11, MS)
add_points(pts_to_rows(COMB_RED_PTS), RED, 3, 11, MS)
add_points(rows_from_list(COMB_BLACK_ROWS), BLACK, 3, 11, MS)
add_points(pts_to_rows(COMB_BLACK_PTS), BLACK, 3, 11, MS)
add_curves(3, COMB_FIT_X, COMB_FIT_Y, COMB_UP_X, COMB_UP_Y, COMB_LO_X, COMB_LO_Y)

TICK_FONT = dict(family="Liberation Sans, Arial, sans-serif", size=42 / KF, color="black")
layout = dict(autosize=True, margin=dict(l=0, r=0, t=0, b=0, pad=0),
              paper_bgcolor="white", plot_bgcolor="white", showlegend=False)
for i in range(3):
    sx = "" if i == 0 else str(i + 1)
    layout["xaxis" + sx] = dict(
        domain=list(X_DOMAINS[i]), range=list(X_RANGES[i]), anchor="y" + sx,
        tickmode="array", tickvals=X_TICKS, ticktext=X_TICK_TEXT,
        ticks="outside", ticklen=28, tickwidth=2.4, tickcolor="black",
        showline=True, mirror=True, linecolor="black", linewidth=2.4,
        showgrid=False, zeroline=False, tickfont=TICK_FONT, ticklabelstandoff=27)
    layout["yaxis" + sx] = dict(
        domain=list(Y_DOMAIN), range=list(Y_RANGE), anchor="x" + sx,
        tickmode="array", tickvals=Y_TICKS, ticktext=Y_TICK_TEXT,
        ticks="outside", ticklen=28 * SX, tickwidth=2.4, tickcolor="black",
        showline=True, mirror=True, linecolor="black", linewidth=2.4,
        showgrid=False, zeroline=False, tickfont=TICK_FONT, ticklabelstandoff=23)
fig.update_layout(**layout)

BOLD = dict(family="Liberation Sans, Arial, sans-serif", size=43 / KF, color="black")
SERIF = dict(family="Liberation Serif, Times New Roman, serif", size=86 / KF, color="black")
ann = []
title_left = [239, 1768, 3242]
title_bottom = [97, 103, 97]
rsqr_x = [379, 1894, 3422]
ytitle_x = [27, 1544, 3069]
for i in range(3):
    x0, x1 = X_DOMAINS[i]
    ann.append(dict(text=PANEL_TITLES[i], x=title_left[i] / W, y=(H - title_bottom[i]) / H,
                    xref="paper", yref="paper", xanchor="left", yanchor="bottom",
                    showarrow=False, font=SERIF))
    ann.append(dict(text="<b>%s</b>" % RSQR_TEXT[i], x=rsqr_x[i] / W, y=(H - 157) / H,
                    xref="paper", yref="paper", xanchor="center", yanchor="middle",
                    showarrow=False, font=BOLD))
    ann.append(dict(text="<b>%s</b>" % NM_TEXT[i], x=rsqr_x[i] / W, y=(H - 203) / H,
                    xref="paper", yref="paper", xanchor="center", yanchor="middle",
                    showarrow=False, font=BOLD))
    ann.append(dict(text="<b>Mean Relative Abundance (log10)</b>",
                    x=(x0 + x1) / 2 - 5 / W, y=(H - 1125) / H,
                    xref="paper", yref="paper", xanchor="center", yanchor="middle",
                    showarrow=False, font=BOLD))
    ann.append(dict(text="<b>Frequency of Occurance</b>", x=ytitle_x[i] / W,
                    y=(H - 498.5) / H, xref="paper", yref="paper", xanchor="center",
                    yanchor="middle", textangle=-90, showarrow=False, font=BOLD))
fig.update_layout(annotations=ann)

fig.write_html("out.html", default_width="100vw", default_height="100vh",
               config={"displayModeBar": False},
               post_script="document.body.style.margin='0';document.body.style.overflow='hidden';")
